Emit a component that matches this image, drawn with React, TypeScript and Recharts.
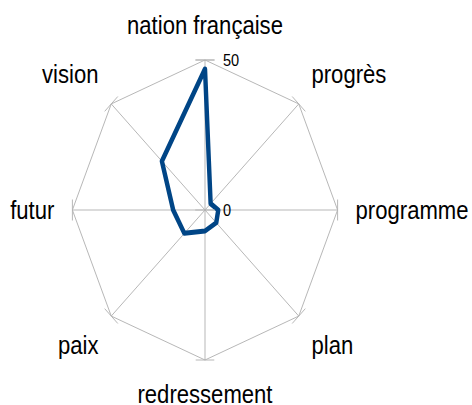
import { RadarChart, Radar, PolarGrid, PolarAngleAxis, PolarRadiusAxis } from 'recharts';

const terms = ['nation française', 'progrès', 'programme', 'plan', 'redressement', 'paix', 'futur', 'vision'];
const counts = [47, 3, 5, 6, 7, 11, 12, 23];
const radiusTicks = [0, 50];

const data = terms.map((term, i) => ({ term, count: counts[i] }));

// the whole chart (text included) is squeezed horizontally, like the reference
const SX = 0.884;
const PAGE_CX = 205;
const CX = 280;
const CY = 210;
const R = 150;
const W = 640;
const GRID = '#b3b3b3';
const FONT = '"Liberation Sans", Arial, sans-serif';

function AngleTick(props: any) {
  const { payload } = props;
  const rad = (payload.coordinate * Math.PI) / 180;
  const cos = Math.cos(rad);
  const sin = Math.sin(rad);
  const vx = CX + R * cos;
  const vy = CY - R * sin;
  const tx = sin * 10.5;
  const ty = cos * 10.5;
  const ax = vx + (cos * 18) / SX;
  const ay = vy - sin * 18;
  const anchor = Math.abs(cos) < 0.01 ? 'middle' : cos > 0 ? 'start' : 'end';
  const by = sin > 0.01 ? ay - 8 : sin < -0.01 ? ay + 25 : ay + 9;
  return (
    <g>
      <line x1={vx - tx} y1={vy - ty} x2={vx + tx} y2={vy + ty} stroke={GRID} strokeWidth={1} />
      <text x={ax} y={by} textAnchor={anchor} fontSize={25} fontFamily={FONT} fill="#000">
        {payload.value}
      </text>
    </g>
  );
}

function RadiusTick(props: any) {
  const { x, y, payload } = props;
  return (
    <g>
      <line x1={x - 11} y1={y} x2={x + 11} y2={y} stroke={GRID} strokeWidth={1} />
      <text x={x + 18 / SX} y={y + 6} textAnchor="start" fontSize={16.5} fontFamily={FONT} fill="#000">
        {payload.value}
      </text>
    </g>
  );
}

export default function App() {
  return (
    <div style={{ position: 'absolute', left: 0, top: 0, width: 472, height: 405, overflow: 'hidden', background: '#fff' }}>
      <div
        style={{
          position: 'absolute',
          left: 0,
          top: 0,
          width: W,
          height: 405,
          transformOrigin: '0 0',
          transform: `translateX(${PAGE_CX - SX * CX}px) scaleX(${SX})`,
        }}
      >
        <RadarChart width={W} height={405} data={data} cx={CX} cy={CY} outerRadius={R} margin={{ top: 0, right: 0, bottom: 0, left: 0 }}>
          <PolarGrid stroke={GRID} strokeOpacity={1} />
          <PolarAngleAxis dataKey="term" tick={AngleTick} tickLine={false} axisLine={false} />
          <PolarRadiusAxis
            angle={90}
            domain={[0, 50]}
            ticks={radiusTicks as any}
            tickCount={2}
            axisLine={false}
            tick={RadiusTick}
          />
          <Radar
            dataKey="count"
            stroke="#004586"
            strokeWidth={5}
            strokeLinejoin="round"
            fill="none"
            fillOpacity={0}
            dot={false}
            isAnimationActive={false}
          />
        </RadarChart>
      </div>
    </div>
  );
}
